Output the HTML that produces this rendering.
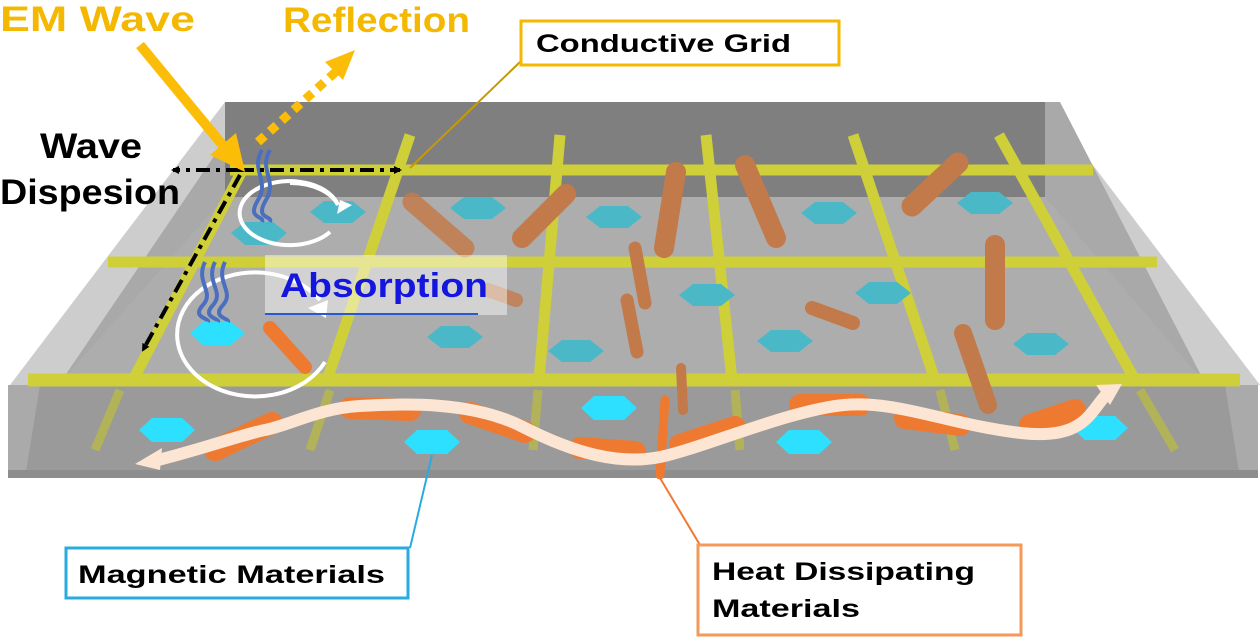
<!DOCTYPE html>
<html><head><meta charset="utf-8"><style>
html,body{margin:0;padding:0;background:#fff;width:1260px;height:641px;overflow:hidden}
svg{display:block}
text{font-family:"Liberation Sans",sans-serif;font-weight:bold}
</style></head><body>
<svg width="1260" height="641" viewBox="0 0 1260 641" xmlns="http://www.w3.org/2000/svg">
<defs>
<marker id="ah" markerWidth="8" markerHeight="8" refX="6" refY="4" orient="auto" markerUnits="userSpaceOnUse"><path d="M0,0 L8,4 L0,8 Z" fill="#000"/></marker>
</defs>
<!-- shell -->
<polygon points="225,102 1045,102 1260,385 10,385" fill="#cdcdcd"/>
<polygon points="225,140 225,197 1045,197 1045,102 1060,102 1205,383 60,383" fill="#a9a9a9"/>
<polygon points="225,197 1045,197 1205,383 60,383" fill="#adadad"/>
<polygon points="225,102 1045,102 1045,197 225,197" fill="#7f7f7f"/>
<!-- front -->
<rect x="8" y="385" width="1250" height="93" fill="#9a9a9a"/>
<polygon points="8,385 40,385 25,478 8,478" fill="#aaaaaa"/>
<polygon points="1225,385 1258,385 1258,478 1240,478" fill="#aaaaaa"/>
<rect x="8" y="470" width="1250" height="8" fill="#8e8e8e"/>
<!-- grid -->
<g stroke="#cfcf3a" stroke-width="11" fill="none">
<line x1="230" y1="170" x2="1093" y2="170"/>
<line x1="108" y1="262" x2="1157" y2="262"/>
<line x1="28" y1="380" x2="1240" y2="380" stroke-width="13"/>
<line x1="245" y1="165" x2="133" y2="380"/>
<line x1="410" y1="135" x2="327" y2="380"/>
<line x1="560" y1="135" x2="539" y2="380"/>
<line x1="706" y1="135" x2="732" y2="380"/>
<line x1="853" y1="135" x2="935" y2="380"/>
<line x1="999" y1="135" x2="1135" y2="380"/>
</g>
<g stroke="#b8b84a" stroke-width="9" opacity="0.8">
<line x1="120" y1="390" x2="95" y2="450"/>
<line x1="330" y1="390" x2="310" y2="450"/>
<line x1="538" y1="390" x2="533" y2="450"/>
<line x1="735" y1="390" x2="740" y2="450"/>
<line x1="940" y1="390" x2="955" y2="450"/>
<line x1="1140" y1="390" x2="1175" y2="450"/>
</g>
<!-- rods -->
<g stroke="#c27a4a" stroke-linecap="round" fill="none">
<line x1="522" y1="238" x2="566" y2="194" stroke-width="20"/>
<line x1="676" y1="172" x2="664" y2="248" stroke-width="20"/>
<line x1="745" y1="165" x2="776" y2="238" stroke-width="20"/>
<line x1="958" y1="163" x2="912" y2="206" stroke-width="21"/>
<line x1="995" y1="245" x2="995" y2="320" stroke-width="20"/>
<line x1="635" y1="248" x2="645" y2="303" stroke-width="13"/>
<line x1="627" y1="300" x2="637" y2="352" stroke-width="13"/>
<line x1="812" y1="308" x2="853" y2="323" stroke-width="14"/>
<line x1="963" y1="333" x2="988" y2="405" stroke-width="18"/>
<line x1="681" y1="368" x2="683" y2="410" stroke-width="10"/>
<line x1="412" y1="202" x2="465" y2="248" stroke-width="19" opacity="0.85"/>
<line x1="488" y1="290" x2="516" y2="300" stroke-width="14" opacity="0.8"/>
</g>
<line x1="270" y1="328" x2="305" y2="367" stroke="#ee7a32" stroke-width="14" stroke-linecap="round"/>
<!-- hexes -->
<g fill="#4bb8c8">
<polygon points="310,212 324,201 352,201 366,212 352,223 324,223"/>
<polygon points="231,233 245,222 273,222 287,233 273,245 245,245"/>
<polygon points="450,208 464,197 492,197 506,208 492,219 464,219"/>
<polygon points="427,337 441,326 469,326 483,337 469,348 441,348"/>
<polygon points="586,217 600,206 628,206 642,217 628,228 600,228"/>
<polygon points="801,213 815,202 843,202 857,213 843,224 815,224"/>
<polygon points="957,203 971,192 999,192 1013,203 999,214 971,214"/>
<polygon points="679,295 693,284 721,284 735,295 721,306 693,306"/>
<polygon points="855,293 869,282 897,282 911,293 897,304 869,304"/>
<polygon points="548,351 562,340 590,340 604,351 590,362 562,362"/>
<polygon points="757,341 771,330 799,330 813,341 799,352 771,352"/>
<polygon points="1013,344 1027,333 1055,333 1069,344 1055,355 1027,355"/>
</g>
<g fill="#2ee0ff">
<polygon points="190,333 203,322 231,322 245,333 231,345 203,345"/>
<polygon points="139,430 152,418 182,418 195,430 182,442 152,442"/>
<polygon points="404,442 417,430 447,430 460,442 447,454 417,454"/>
<polygon points="581,408 594,396 624,396 637,408 624,420 594,420"/>
<polygon points="776,442 789,430 819,430 832,442 819,454 789,454"/>
<polygon points="1072,428 1085,416 1115,416 1128,428 1115,440 1085,440"/>
</g>
<!-- orange heat rods along wave -->
<g stroke="#ee7a32" stroke-width="22" stroke-linecap="round" fill="none">
<line x1="215" y1="450" x2="272" y2="423"/>
<line x1="350" y1="408" x2="410" y2="410"/>
<line x1="470" y1="413" x2="525" y2="432"/>
<line x1="580" y1="448" x2="635" y2="452"/>
<line x1="680" y1="445" x2="735" y2="427"/>
<line x1="800" y1="405" x2="860" y2="405"/>
<line x1="905" y1="418" x2="960" y2="425"/>
<line x1="1030" y1="425" x2="1075" y2="410"/>
</g>
<line x1="665" y1="400" x2="660" y2="475" stroke="#ee7a32" stroke-width="9" stroke-linecap="round"/>
<!-- wave arrow -->
<path d="M150,462 C200,450 240,435 265,430 S320,408 360,406 S470,400 523,427 S620,465 660,457 S790,410 844,405 S950,425 1021,433 S1090,405 1112,390" stroke="#fde5d4" stroke-width="12" fill="none"/>
<polygon points="135,464 162,448 160,470" fill="#fde5d4"/>
<polygon points="1122,384 1096,385 1110,405" fill="#fde5d4"/>
<!-- white circular arrows -->
<path d="M338,205 A50,32 0 1 0 330,232" stroke="#fff" stroke-width="4" fill="none"/>
<path d="M338,205 A50,32 0 0 0 290,183" stroke="#fff" stroke-width="4" fill="none"/>
<polygon points="337,214 352,205 340,200" fill="#fff"/>
<path d="M325,362 A78,62 0 1 1 320,300" stroke="#fff" stroke-width="4" fill="none"/>
<polygon points="308,308 328,300 326,318" fill="#fff"/>
<!-- blue squiggles -->
<g stroke="#4a6fc0" stroke-width="4" fill="none">
<path d="M262,150 C250,170 270,180 258,200 S265,215 262,222"/>
<path d="M270,150 C258,170 278,180 266,200 S273,215 270,222"/>
<path d="M205,262 C195,282 215,292 203,305 S210,318 208,322"/>
<path d="M215,262 C205,282 225,292 213,305 S220,318 218,322"/>
<path d="M225,262 C215,282 235,292 223,305 S230,318 228,322"/>
</g>
<!-- absorption -->
<rect x="265" y="255" width="242" height="60" fill="#fff" opacity="0.45"/>
<text x="280" y="297" font-size="34" fill="#1515e0" textLength="208" lengthAdjust="spacingAndGlyphs">Absorption</text>
<line x1="265" y1="314" x2="478" y2="314" stroke="#2a5ad0" stroke-width="2"/>
<!-- dispersion arrows -->
<line x1="240" y1="170" x2="173" y2="170" stroke="#000" stroke-width="4" stroke-dasharray="14,6,4,6" marker-end="url(#ah)"/>
<line x1="240" y1="170" x2="400" y2="170" stroke="#000" stroke-width="4" stroke-dasharray="14,6,4,6" marker-end="url(#ah)"/>
<line x1="240" y1="175" x2="143" y2="350" stroke="#000" stroke-width="4" stroke-dasharray="14,6,4,6" marker-end="url(#ah)"/>
<!-- EM wave arrow -->
<line x1="140" y1="45" x2="225" y2="148" stroke="#fbbd08" stroke-width="10"/>
<polygon points="245,172 210,155 236,133" fill="#fbbd08"/>
<line x1="258" y1="142" x2="340" y2="68" stroke="#fbbd08" stroke-width="9" stroke-dasharray="9,7"/>
<polygon points="355,50 325,62 343,80" fill="#fbbd08"/>
<text x="0" y="31" font-size="35" fill="#f5b800" textLength="195" lengthAdjust="spacingAndGlyphs">EM Wave</text>
<text x="283" y="32" font-size="35" fill="#f5b800" textLength="187" lengthAdjust="spacingAndGlyphs">Reflection</text>
<text x="40" y="158" font-size="35" fill="#000" textLength="102" lengthAdjust="spacingAndGlyphs">Wave</text>
<text x="0" y="204" font-size="35" fill="#000" textLength="180" lengthAdjust="spacingAndGlyphs">Dispesion</text>
<!-- callouts -->
<line x1="520" y1="62" x2="410" y2="168" stroke="#c89a00" stroke-width="2"/>
<rect x="521" y="21" width="318" height="44" fill="#fff" stroke="#f5b800" stroke-width="3"/>
<text x="536" y="52" font-size="25" fill="#000" textLength="255" lengthAdjust="spacingAndGlyphs">Conductive Grid</text>
<line x1="432" y1="455" x2="410" y2="548" stroke="#29abe2" stroke-width="2"/>
<rect x="66" y="548" width="342" height="50" fill="#fff" stroke="#29abe2" stroke-width="3"/>
<text x="78" y="583" font-size="25" fill="#000" textLength="307" lengthAdjust="spacingAndGlyphs">Magnetic Materials</text>
<line x1="660" y1="478" x2="700" y2="545" stroke="#ee7a32" stroke-width="2"/>
<rect x="698" y="545" width="323" height="90" fill="#fff" stroke="#f39a5a" stroke-width="3"/>
<text x="712" y="580" font-size="25" fill="#000" textLength="263" lengthAdjust="spacingAndGlyphs">Heat Dissipating</text>
<text x="712" y="617" font-size="25" fill="#000" textLength="148" lengthAdjust="spacingAndGlyphs">Materials</text>
</svg>
</body></html>
